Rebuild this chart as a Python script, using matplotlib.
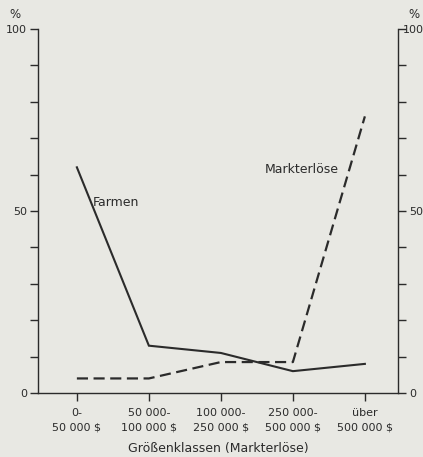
import matplotlib
matplotlib.use("Agg")
import matplotlib.pyplot as plt
from matplotlib.transforms import ScaledTranslation

categories = ["0-\n50 000 $", "50 000-\n100 000 $", "100 000-\n250 000 $",
              "250 000-\n500 000 $", "über\n500 000 $"]
farmen = [62, 13, 11, 6, 8]
markterloese = [4, 4, 8.5, 8.5, 76]
yticks_major = [0, 50, 100]
yticks_minor = [10, 20, 30, 40, 60, 70, 80, 90]

bg = "#e8e8e3"
ink = "#2b2b2b"
plt.rcParams['font.family'] = ['DejaVu Sans']

fig = plt.figure(figsize=(4.23, 4.57), dpi=100, facecolor=bg)
ax = fig.add_axes([38/423, 1-393/457, 360/423, 364/457], facecolor=bg)

x = list(range(len(categories)))
ax.plot(x, farmen, color=ink, lw=1.5, solid_joinstyle='miter')
ln, = ax.plot(x, markterloese, color=ink, lw=1.6)
ln.set_dashes((5, 2.5))

ax.set_xlim(-0.54, 4.46)
ax.set_ylim(0, 100)
for s in ['left', 'right', 'bottom']:
    ax.spines[s].set_color(ink)
    ax.spines[s].set_linewidth(1.0)
ax.spines['top'].set_visible(False)

ax.set_xticks(x)
ax.set_xticklabels(categories, fontsize=8, color=ink, linespacing=1.5)
ax.set_yticks(yticks_major)
ax.set_yticks(yticks_minor, minor=True)
ax.set_yticklabels([str(v) for v in yticks_major], fontsize=8, color=ink)
ax.tick_params(axis='y', which='both', left=True, right=True, labelleft=True,
               labelright=True, direction='out', length=6, width=1.0, color=ink, pad=2)
ax.tick_params(axis='x', direction='out', length=6, width=1.0, color=ink, pad=5)

# the top right "100" sits tight against the frame, as in the reference
top_right = ax.yaxis.get_major_ticks()[2].label2
top_right.set_transform(top_right.get_transform() + ScaledTranslation(-6/100, 0, fig.dpi_scale_trans))

ax.set_xlabel("Größenklassen (Markterlöse)", fontsize=9, color=ink, labelpad=7)

fig.text(15/423, 1-15/457, "%", fontsize=8.5, color=ink, ha='center', va='center')
fig.text(414/423, 1-15/457, "%", fontsize=8.5, color=ink, ha='center', va='center')

ax.text(0.22, 52.2, "Farmen", fontsize=9, color=ink, ha='left', va='center')
ax.text(3.64, 61.3, "Markterlöse", fontsize=9, color=ink, ha='right', va='center')

fig.savefig("out.png", dpi=100, facecolor=bg)
